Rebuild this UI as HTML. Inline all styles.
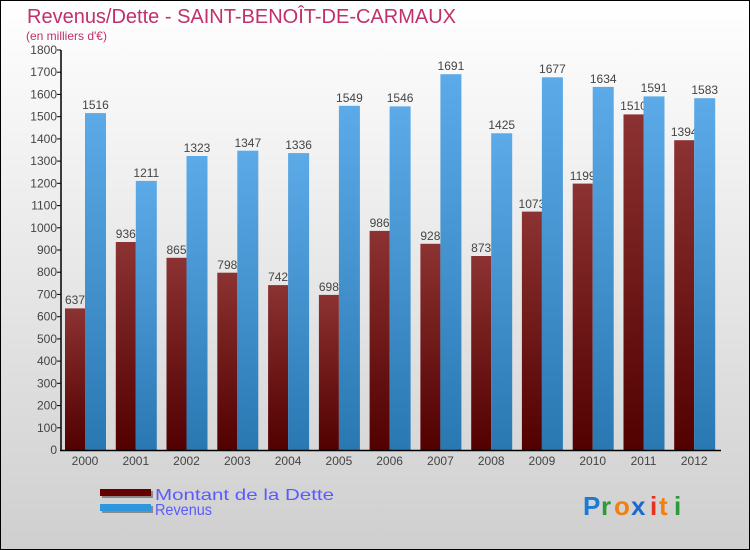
<!DOCTYPE html>
<html><head><meta charset="utf-8"><style>body{margin:0}svg{display:block}</style></head><body>
<svg width="750" height="550" xmlns="http://www.w3.org/2000/svg" font-family="Liberation Sans, sans-serif">
<defs>
<linearGradient id="bg" x1="0" y1="0" x2="0" y2="1"><stop offset="0" stop-color="#ffffff"/><stop offset="1" stop-color="#cfcfcf"/></linearGradient>
<linearGradient id="gd" x1="0" y1="0" x2="0" y2="1"><stop offset="0" stop-color="#8c3232"/><stop offset="1" stop-color="#520000"/></linearGradient>
<linearGradient id="gr" x1="0" y1="0" x2="0" y2="1"><stop offset="0" stop-color="#5caae8"/><stop offset="1" stop-color="#2a78b2"/></linearGradient>
</defs>
<rect x="0.5" y="0.5" width="749" height="549" fill="url(#bg)" stroke="#000"/>
<text x="27" y="23" font-size="20" fill="#c0306a">Revenus/Dette - SAINT-BENOÎT-DE-CARMAUX</text>
<text x="26" y="40" font-size="12" fill="#c0306a">(en milliers d'€)</text>
<g fill="url(#gd)">
<rect x="65" y="308.4" width="20" height="141.6"/>
<rect x="115.8" y="242" width="20" height="208"/>
<rect x="166.5" y="257.8" width="20" height="192.2"/>
<rect x="217.3" y="272.7" width="20" height="177.3"/>
<rect x="268.1" y="285.1" width="20" height="164.9"/>
<rect x="318.9" y="294.9" width="20" height="155.1"/>
<rect x="369.6" y="230.9" width="20" height="219.1"/>
<rect x="420.4" y="243.8" width="20" height="206.2"/>
<rect x="471.2" y="256" width="20" height="194"/>
<rect x="521.9" y="211.6" width="20" height="238.4"/>
<rect x="572.7" y="183.6" width="20" height="266.4"/>
<rect x="623.5" y="114.4" width="20" height="335.6"/>
<rect x="674.2" y="140.2" width="20" height="309.8"/>
</g>
<g font-size="12" fill="#444" text-anchor="middle">
<text x="75" y="304">637</text><text x="125.8" y="238">936</text><text x="176.5" y="254">865</text><text x="227.3" y="269">798</text><text x="278.1" y="281">742</text><text x="328.9" y="291">698</text><text x="379.6" y="227">986</text><text x="430.4" y="240">928</text><text x="481.2" y="252">873</text><text x="531.9" y="208">1073</text><text x="582.7" y="180">1199</text><text x="633.5" y="110">1510</text><text x="684.2" y="136">1394</text>
</g>
<g fill="url(#gr)">
<rect x="85" y="113.1" width="21" height="336.9"/>
<rect x="135.8" y="180.9" width="21" height="269.1"/>
<rect x="186.5" y="156" width="21" height="294"/>
<rect x="237.3" y="150.7" width="21" height="299.3"/>
<rect x="288.1" y="153.1" width="21" height="296.9"/>
<rect x="338.9" y="105.8" width="21" height="344.2"/>
<rect x="389.6" y="106.4" width="21" height="343.6"/>
<rect x="440.4" y="74.2" width="21" height="375.8"/>
<rect x="491.2" y="133.3" width="21" height="316.7"/>
<rect x="541.9" y="77.3" width="21" height="372.7"/>
<rect x="592.7" y="86.9" width="21" height="363.1"/>
<rect x="643.5" y="96.4" width="21" height="353.6"/>
<rect x="694.2" y="98.2" width="21" height="351.8"/>
</g>
<g font-size="12" fill="#444" text-anchor="middle">
<text x="95.5" y="109">1516</text><text x="146.3" y="177">1211</text><text x="197" y="152">1323</text><text x="247.8" y="147">1347</text><text x="298.6" y="149">1336</text><text x="349.4" y="102">1549</text><text x="400.1" y="102">1546</text><text x="450.9" y="70">1691</text><text x="501.7" y="129">1425</text><text x="552.4" y="73">1677</text><text x="603.2" y="83">1634</text><text x="654" y="92">1591</text><text x="704.7" y="94">1583</text>
</g>
<g stroke="#000" stroke-width="1.5">
<line x1="61" y1="50" x2="61" y2="451"/>
<line x1="60" y1="450.5" x2="721" y2="450.5"/>
</g>
<g stroke="#000" stroke-width="1">
<line x1="57" y1="50" x2="61" y2="50"/><line x1="57" y1="72.2" x2="61" y2="72.2"/><line x1="57" y1="94.4" x2="61" y2="94.4"/><line x1="57" y1="116.7" x2="61" y2="116.7"/><line x1="57" y1="138.9" x2="61" y2="138.9"/><line x1="57" y1="161.1" x2="61" y2="161.1"/><line x1="57" y1="183.3" x2="61" y2="183.3"/><line x1="57" y1="205.6" x2="61" y2="205.6"/><line x1="57" y1="227.8" x2="61" y2="227.8"/><line x1="57" y1="250" x2="61" y2="250"/><line x1="57" y1="272.2" x2="61" y2="272.2"/><line x1="57" y1="294.4" x2="61" y2="294.4"/><line x1="57" y1="316.7" x2="61" y2="316.7"/><line x1="57" y1="338.9" x2="61" y2="338.9"/><line x1="57" y1="361.1" x2="61" y2="361.1"/><line x1="57" y1="383.3" x2="61" y2="383.3"/><line x1="57" y1="405.6" x2="61" y2="405.6"/><line x1="57" y1="427.8" x2="61" y2="427.8"/>
</g>
<g font-size="12" fill="#444" text-anchor="end">
<text x="57" y="54">1800</text><text x="57" y="76.2">1700</text><text x="57" y="98.4">1600</text><text x="57" y="120.7">1500</text><text x="57" y="142.9">1400</text><text x="57" y="165.1">1300</text><text x="57" y="187.3">1200</text><text x="57" y="209.6">1100</text><text x="57" y="231.8">1000</text><text x="57" y="254">900</text><text x="57" y="276.2">800</text><text x="57" y="298.4">700</text><text x="57" y="320.7">600</text><text x="57" y="342.9">500</text><text x="57" y="365.1">400</text><text x="57" y="387.3">300</text><text x="57" y="409.6">200</text><text x="57" y="431.8">100</text><text x="57" y="454">0</text>
</g>
<g font-size="12" fill="#444" text-anchor="middle">
<text x="85" y="465">2000</text><text x="135.8" y="465">2001</text><text x="186.5" y="465">2002</text><text x="237.3" y="465">2003</text><text x="288.1" y="465">2004</text><text x="338.9" y="465">2005</text><text x="389.6" y="465">2006</text><text x="440.4" y="465">2007</text><text x="491.2" y="465">2008</text><text x="541.9" y="465">2009</text><text x="592.7" y="465">2010</text><text x="643.5" y="465">2011</text><text x="694.2" y="465">2012</text>
</g>
<rect x="102" y="491" width="51" height="7" fill="#888"/>
<rect x="100" y="489" width="51" height="7" fill="#650000"/>
<rect x="102" y="506" width="51" height="7" fill="#888"/>
<rect x="100" y="504" width="51" height="7" fill="#2e96dc"/>
<text x="155" y="500" font-size="16" fill="#5a5aff" textLength="179" lengthAdjust="spacingAndGlyphs">Montant de la Dette</text>
<text x="155" y="515" font-size="16" fill="#5a5aff" textLength="57" lengthAdjust="spacingAndGlyphs">Revenus</text>
<g font-size="26" font-weight="bold" font-family="Liberation Sans, sans-serif">
<text x="583" y="515" fill="#1a7ad8">P</text><text x="601" y="515" fill="#2a9a3a">r</text><text x="614" y="515" fill="#f08010">o</text><text x="631" y="515" fill="#1a6ad0">x</text><text x="650" y="515" fill="#e83020">i</text><text x="659" y="515" fill="#f08010">t</text><text x="674" y="515" fill="#2a9a3a">i</text>
</g>
</svg>
</body></html>
